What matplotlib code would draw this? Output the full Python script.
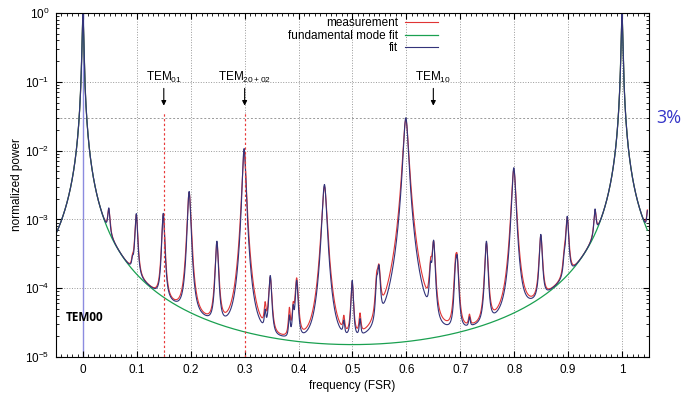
import numpy as np
import matplotlib.pyplot as plt
from matplotlib.ticker import FixedLocator, FixedFormatter, MultipleLocator, LogLocator, NullFormatter

plt.rcParams['font.family'] = ['Liberation Sans', 'DejaVu Sans']
plt.rcParams['mathtext.fontset'] = 'custom'
plt.rcParams['mathtext.rm'] = 'Liberation Sans'

# fundamental mode (TEM00): coefficient of finesse
finesse_coef = 66000.0
# exponent of the line shape used for the higher order peaks
shape_exp = 1.5

# higher order modes: position (FSR), peak height, half width
mode_pos = [0.048, 0.092, 0.099, 0.149, 0.197, 0.2485, 0.299, 0.338, 0.3475,
            0.383, 0.390, 0.3965, 0.448, 0.484, 0.4995, 0.514, 0.545, 0.549,
            0.599, 0.645, 0.6505, 0.691, 0.694, 0.717, 0.7485, 0.7993, 0.8494,
            0.893, 0.8984, 0.950, 1.048]
fit_height = [8.0e-4, 6e-5, 1.05e-3, 1.15e-3, 2.5e-3, 4.5e-4, 1.07e-2, 2e-5, 1.3e-4,
              2e-5, 3e-5, 1.1e-4, 3.2e-3, 1.2e-5, 1.1e-4, 1.5e-5, 8e-5, 1.7e-4,
              3.0e-2, 1.5e-4, 4.5e-4, 1.2e-4, 2.5e-4, 1.0e-5, 4.5e-4, 5.6e-3, 5.3e-4,
              1.0e-4, 9.5e-4, 8.0e-4, 8.0e-4]
fit_width = [0.0025, 0.0020, 0.0028, 0.0028, 0.0032, 0.0030, 0.0032, 0.0020, 0.0030,
             0.0020, 0.0020, 0.0030, 0.0042, 0.0020, 0.0025, 0.0020, 0.0025, 0.0030,
             0.0045, 0.0025, 0.0030, 0.0025, 0.0030, 0.0020, 0.0030, 0.0038, 0.0030,
             0.0025, 0.0030, 0.0025, 0.0025]
meas_height = [7.5e-4, 6e-5, 1.0e-3, 1.1e-3, 2.4e-3, 4.2e-4, 1.0e-2, 3e-5, 1.2e-4,
               3e-5, 3e-5, 1.2e-4, 3.0e-3, 1.5e-5, 1.0e-4, 2.0e-5, 9e-5, 1.6e-4,
               2.8e-2, 1.6e-4, 4.2e-4, 1.6e-4, 2.4e-4, 1.2e-5, 4.2e-4, 5.2e-3, 5.0e-4,
               1.2e-4, 9.0e-4, 7.5e-4, 8.0e-4]
meas_width = [0.0029, 0.0023, 0.0032, 0.0032, 0.0037, 0.0035, 0.0037, 0.0023, 0.0035,
              0.0023, 0.0023, 0.0035, 0.0048, 0.0023, 0.0029, 0.0023, 0.0029, 0.0035,
              0.0052, 0.0029, 0.0035, 0.0029, 0.0035, 0.0023, 0.0035, 0.0044, 0.0035,
              0.0029, 0.0035, 0.0029, 0.0029]

# marked modes: dashed red line from the bottom up to this level
marked_modes = [0.15, 0.3]
marker_top = 0.035

xtick_vals = [0, 0.1, 0.2, 0.3, 0.4, 0.5, 0.6, 0.7, 0.8, 0.9, 1.0]
xtick_labels = ['0', '0.1', '0.2', '0.3', '0.4', '0.5', '0.6', '0.7', '0.8', '0.9', '1']

freq = np.linspace(-0.05, 1.047, 5486)
fundamental = 1.0 / (1.0 + finesse_coef * np.sin(np.pi * freq) ** 2)


def modes(heights, widths):
    total = np.zeros_like(freq)
    for p, h, w in zip(mode_pos, heights, widths):
        total += h / (1.0 + ((freq - p) / w) ** 2) ** shape_exp
    return total


fit = fundamental + modes(fit_height, fit_width)
meas = fundamental + modes(meas_height, meas_width)

fig = plt.figure(figsize=(6.86, 3.98), dpi=100)
ax = fig.add_axes([0.0816, 0.103, 0.8644, 0.8643])

ax.set_yscale('log')
ax.set_xlim(-0.05, 1.05)
ax.set_ylim(1e-5, 1)

# grid: horizontal via matplotlib, vertical by hand so the marked modes stay red
grid_style = dict(ls=':', color='#999999', lw=0.7, zorder=1)
ax.grid(True, axis='y', which='major', **grid_style)
for xv in xtick_vals[1:]:
    if xv in marked_modes:
        ax.vlines(xv, marker_top, 1, **grid_style)
    else:
        ax.axvline(xv, **grid_style)
ax.axhline(0.03, ls=(0, (2, 2)), color='#999999', lw=0.7, zorder=1)
ax.axvline(0, color='#8c8ce0', lw=1.0, zorder=1.2)

ax.plot(freq, meas, color='#e03535', lw=0.8, label='measurement')
ax.plot(freq, fundamental, color='#1aa050', lw=0.9, label='fundamental mode fit')
ax.plot(freq, fit, color='#33337a', lw=0.8, label='fit')
for xm in marked_modes:
    ax.plot([xm, xm], [1e-5, marker_top], color='#e83a3a', ls=(0, (2, 2)), lw=0.85,
            zorder=3)

leg = ax.legend(loc='upper right', bbox_to_anchor=(0.652, 1.0), markerfirst=False,
                frameon=False, fontsize=8.5, handlelength=2.8, handletextpad=0.6,
                labelspacing=0.05, borderaxespad=0.1, borderpad=0.25)

for xpos, lab in [(0.15, 'TEM$\\mathregular{_{01}}$'), (0.3, 'TEM$\\mathregular{_{20+02}}$'),
                  (0.65, 'TEM$\\mathregular{_{10}}$')]:
    ax.text(xpos, 0.115, lab, ha='center', va='center', fontsize=8.5)
    ax.annotate('', xy=(xpos, 0.041), xytext=(xpos, 0.088),
                arrowprops=dict(arrowstyle='-|>', color='k', lw=0.8, mutation_scale=7))

ax.text(-0.032, 3.8e-5, 'TEM00', fontweight='bold', fontsize=8.5, va='center',
        family=['Open Sans', 'DejaVu Sans'])
ax.text(1.013, 0.03, '3%', transform=ax.get_yaxis_transform(), color='#3535c8',
        fontsize=13, va='center', family=['Open Sans', 'DejaVu Sans'])

ax.xaxis.set_major_locator(FixedLocator(xtick_vals))
ax.xaxis.set_major_formatter(FixedFormatter(xtick_labels))
ax.xaxis.set_minor_locator(MultipleLocator(0.01))
ax.yaxis.set_minor_locator(LogLocator(base=10, subs=np.arange(2, 10)))
ax.yaxis.set_minor_formatter(NullFormatter())
ax.tick_params(which='both', direction='in', top=True, right=True, labelsize=8.5)
ax.tick_params(which='major', length=4)
ax.tick_params(which='minor', length=2)
ax.tick_params(axis='x', pad=5)
ax.tick_params(axis='y', pad=4.5)

ax.set_xlabel('frequency (FSR)', fontsize=8.5, labelpad=3)
ax.set_ylabel('normalized power', fontsize=8.5, labelpad=2)

fig.savefig('out.png', dpi=100)
